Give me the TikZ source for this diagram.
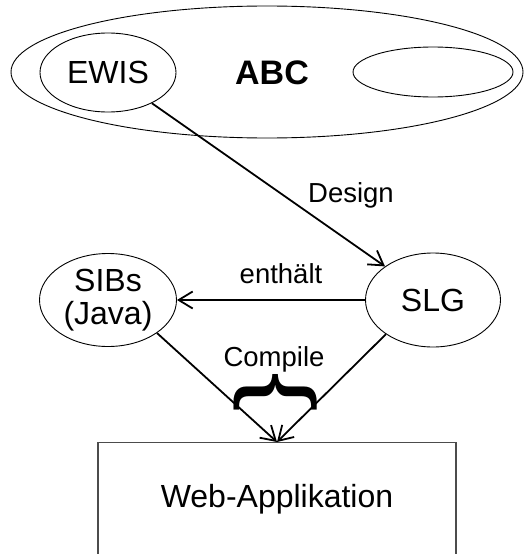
\documentclass[tikz,border=0pt]{standalone}
\usepackage{fontspec}
\setmainfont{Liberation Sans}
\usetikzlibrary{shapes.geometric,arrows.meta,decorations.pathreplacing}
\begin{document}
\begin{tikzpicture}[x=1pt,y=-1pt,
  oval/.style={ellipse,draw,line width=0.9pt,inner sep=0pt},
  bigtxt/.style={font=\fontsize{32}{36}\selectfont},
  smalltxt/.style={font=\fontsize{27.5}{31}\selectfont},
  flow/.style={draw,line width=1.8pt,-{Straight Barb[length=14pt,width=17pt,line width=1.8pt]}},
  webbox/.style={draw=black!70,line width=1.4pt,rectangle,minimum width=358pt,minimum height=160pt,inner sep=0pt},
]
\useasboundingbox (0,0) rectangle (528,554);
\clip (0,0) rectangle (528,554);

% ABC domain with its two sub-areas
\node[oval,minimum width=512pt,minimum height=132pt] (abc) at (267,72) {};
\node[font=\fontsize{34}{38}\selectfont\bfseries] (abclabel) at (272,73) {ABC};
\node[oval,bigtxt,minimum width=136pt,minimum height=79pt] (ewis) at (108,72.5) {EWIS};
\node[oval,minimum width=160pt,minimum height=50pt] (other) at (433,72) {};

% service logic graph and building blocks
\node[oval,bigtxt,minimum width=135pt,minimum height=94pt] (slg) at (433,300) {SLG};
\node[oval,bigtxt,align=center,minimum width=137pt,minimum height=93pt] (sibs) at (108,300) {SIBs\\[-3pt](Java)};

% generated application (open at the bottom)
\node[webbox,anchor=north] (web) at (277,442) {};
\node[bigtxt,anchor=base] (webtxt) at (277,507) {Web-Applikation};

% connectors
\draw[flow] (ewis) -- (slg);
\node[smalltxt,anchor=base] (design) at (351,202) {Design};
\draw[flow] (slg.west) -- (sibs.east);
\node[smalltxt,anchor=base] (contains) at (281,283) {enthält};
\draw[flow] (sibs.-34) -- (web.north);
\draw[flow] (slg.216) -- (web.north);

% compile brace, set as a turned brace glyph
\node[rotate=-90,inner sep=0pt] (brace) at (276,392)
  {\scalebox{1.65}[1.24]{\fontsize{72}{72}\selectfont\{}};
\node[smalltxt,anchor=base] (compile) at (274,366) {Compile};
\end{tikzpicture}
\end{document}
